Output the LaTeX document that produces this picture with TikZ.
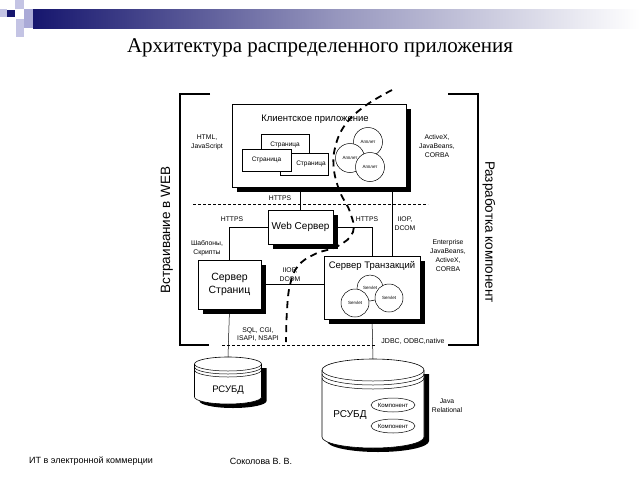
\documentclass[tikz,border=0pt]{standalone}
\usepackage{fontspec}
\setmainfont{Liberation Serif}
\setsansfont{Liberation Sans}
\usetikzlibrary{shadows,calc,shapes.geometric}
\definecolor{navy}{RGB}{22,22,110}
\definecolor{lav}{RGB}{196,196,228}
\definecolor{lav2}{RGB}{170,170,215}
\begin{document}
\begin{tikzpicture}[x=1pt,y=-1pt,
  box/.style={draw, fill=white, line width=0.6pt, drop shadow={fill=black, opacity=1, shadow xshift=5pt, shadow yshift=-5pt}, font=\sffamily, align=center, inner sep=0pt},
  pagebox/.style={draw, fill=white, line width=0.5pt, minimum width=48pt, minimum height=22pt, font=\sffamily\fontsize{6.5}{7}\selectfont, inner sep=0pt},
  applet/.style={draw, fill=white, circle, line width=0.5pt, minimum size=29pt, inner sep=0pt, font=\sffamily\fontsize{4.5}{5}\selectfont},
  servlet/.style={draw, fill=white, circle, line width=0.5pt, minimum size=28pt, inner sep=0pt, font=\sffamily\fontsize{4.5}{5}\selectfont},
  comp/.style={draw, fill=white, ellipse, line width=0.5pt, minimum width=44pt, minimum height=14pt, inner sep=0pt, font=\sffamily\fontsize{6}{7}\selectfont},
  lbl/.style={font=\sffamily\fontsize{6.8}{8.8}\selectfont, align=center, inner sep=0pt},
  conn/.style={line width=0.5pt},
  sepline/.style={line width=0.6pt, dash pattern=on 3pt off 2pt},
  bracket/.style={line width=1.3pt},
  title/.style={font=\sffamily\fontsize{9.5}{11}\selectfont, inner sep=0pt}
]
\useasboundingbox (0,0) rectangle (640,480);
\fill[white] (0,0) rectangle (640,480);
% header
\shade[left color=navy, right color=white, middle color=navy!45!white] (33,9) rectangle (640,28);
\fill[lav] (0,9) rectangle (7,17);
\fill[navy] (7,10) rectangle (15,17);
\fill[lav] (15,0) rectangle (24,9);
\fill[lav2] (24,9) rectangle (33,28);
\fill[lav] (16,19) rectangle (24,37);
\node[font=\fontsize{21}{25}\selectfont, inner sep=0pt] (ttl) at (320,48) {Архитектура распределенного приложения};

% brackets
\draw[bracket] (210,94) -- (180,94) -- (180,345) -- (209,345);
\draw[bracket] (448,94) -- (478,94) -- (478,345) -- (448,345);
\node[font=\sffamily\fontsize{13.5}{16}\selectfont, rotate=90, inner sep=0pt] (lw) at (167,230) {Встраивание в WEB};
\node[font=\sffamily\fontsize{13.5}{16}\selectfont, rotate=-90, inner sep=0pt] (rw) at (489,232) {Разработка компонент};

% separators
\draw[sepline] (193,204) -- (428,204);
\draw[sepline] (222,345) -- (375,345);

% client application
\node[box, minimum width=174pt, minimum height=83pt] (client) at (319,145.5) {};
\node[title] (clientt) at (315,119) {Клиентское приложение};
\node[pagebox] (pg1) at (285,145) {Страница};
\node[pagebox] (pg3) at (304,164) {\hspace*{14pt}Страница};
\node[pagebox, minimum width=49pt] (pg2) at (266.5,160) {Страница};
\node[applet] (ap1) at (368,142) {Апплет};
\node[applet] (ap2) at (350,158) {Апплет};
\node[applet] (ap3) at (370,167) {Апплет};

% servers
\node[box, minimum width=65pt, minimum height=34pt, font=\sffamily\fontsize{10}{12}\selectfont] (web) at (300.5,227) {Web Сервер};
\node[box, minimum width=63pt, minimum height=49pt, font=\sffamily\fontsize{10.5}{13.5}\selectfont] (pserv) at (229.5,284.5) {Сервер\\Страниц};
\node[box, minimum width=96pt, minimum height=63pt] (trans) at (372,287.5) {};
\node[title] (transt) at (372,266) {Сервер Транзакций};
\node[servlet, minimum size=26pt] (sv1) at (370,288) {Servlet};
\node[servlet] (sv2) at (355,303) {Servlet};
\node[servlet] (sv3) at (389,298) {Servlet};

% connectors
\draw[conn] (web.north) -- (web.north |- client.south);
\path (trans.north) ++(20,0) coordinate (t1);
\draw[conn] (t1) -- (t1 |- client.south);
\draw[conn] (web.west) -| (pserv.north);
\draw[conn] (web.east) -| (trans.north);
\draw[conn] (pserv.east) -- (pserv.east -| trans.west);

% labels
\node[lbl] (l1) at (207,142) {HTML,\\JavaScript};
\node[lbl] (l2) at (437,146) {ActiveX,\\JavaBeans,\\CORBA};
\node[lbl] (l3) at (280,198) {HTTPS};
\node[lbl] (l4) at (232,219) {HTTPS};
\node[lbl] (l5) at (367,219) {HTTPS};
\node[lbl] (l6) at (405,224) {IIOP,\\DCOM};
\node[lbl] (l7) at (207,248) {Шаблоны,\\Скрипты};
\node[lbl] (l8) at (290,274.5) {IIOP,\\DCOM};
\node[lbl] (l9) at (448,255.5) {Enterprise\\JavaBeans,\\ActiveX,\\CORBA};
\node[lbl] (l10) at (258,334.5) {SQL, CGI,\\ISAPI, NSAPI};
\node[lbl, font=\sffamily\fontsize{7}{8.5}\selectfont] (l11) at (413,341) {JDBC, ODBC,native};
\node[lbl] (l12) at (447,405.5) {Java\\Relational};

% database 1
\fill[black] (199.5,368) -- (199.5,401) arc[start angle=180, end angle=360, x radius=33.5pt, y radius=7pt] -- (266.5,368) -- cycle;
\draw[line width=0.6pt, fill=white] (194.5,364) -- (194.5,397) arc[start angle=180, end angle=360, x radius=33.5pt, y radius=7pt] -- (261.5,364) arc[start angle=0, end angle=180, x radius=33.5pt, y radius=7pt] -- cycle;
\draw[line width=0.5pt] (194.5,364) arc[start angle=180, end angle=360, x radius=33.5pt, y radius=7pt];
\draw[line width=0.5pt] (194.5,367) arc[start angle=180, end angle=360, x radius=33.5pt, y radius=7pt];
\draw[line width=0.5pt] (194.5,370) arc[start angle=180, end angle=360, x radius=33.5pt, y radius=7pt];
\coordinate (db1) at (228,357);
\node[font=\sffamily\fontsize{9.5}{11}\selectfont, inner sep=0pt] (db1t) at (228,390) {РСУБД};

% database 2
\fill[black] (327,374) -- (327,441) arc[start angle=180, end angle=360, x radius=51pt, y radius=11pt] -- (429,374) -- cycle;
\draw[line width=0.6pt, fill=white] (322,370) -- (322,437) arc[start angle=180, end angle=360, x radius=51pt, y radius=11pt] -- (424,370) arc[start angle=0, end angle=180, x radius=51pt, y radius=11pt] -- cycle;
\draw[line width=0.5pt] (322,370) arc[start angle=180, end angle=360, x radius=51pt, y radius=11pt];
\draw[line width=0.5pt] (322,374) arc[start angle=180, end angle=360, x radius=51pt, y radius=11pt];
\draw[line width=0.5pt] (322,378) arc[start angle=180, end angle=360, x radius=51pt, y radius=11pt];
\coordinate (db2) at (373,359);
\node[font=\sffamily\fontsize{10}{12}\selectfont, inner sep=0pt] (db2t) at (350,415) {РСУБД};
\node[comp] (c1) at (393,405) {Компонент};
\node[comp] (c2) at (393,426) {Компонент};

\draw[conn] (pserv.south) -- (db1);
\draw[conn] (trans.south) -- (db2);

% boundary curve
\draw[line width=1.8pt, dash pattern=on 7pt off 5pt] plot[smooth, tension=0.7] coordinates {(392,90) (365,106) (345,125) (335,148) (334,170) (340,192) (350,212) (353,232) (338,246) (315,254) (298,266) (290,285) (287,310) (286,342)};

% footer
\node[font=\sffamily\fontsize{9}{11}\selectfont, inner sep=0pt] (f1) at (91,461) {ИТ в электронной коммерции};
\node[font=\sffamily\fontsize{9}{11}\selectfont, inner sep=0pt] (f2) at (261,461) {Соколова В. В.};
\end{tikzpicture}
\end{document}
